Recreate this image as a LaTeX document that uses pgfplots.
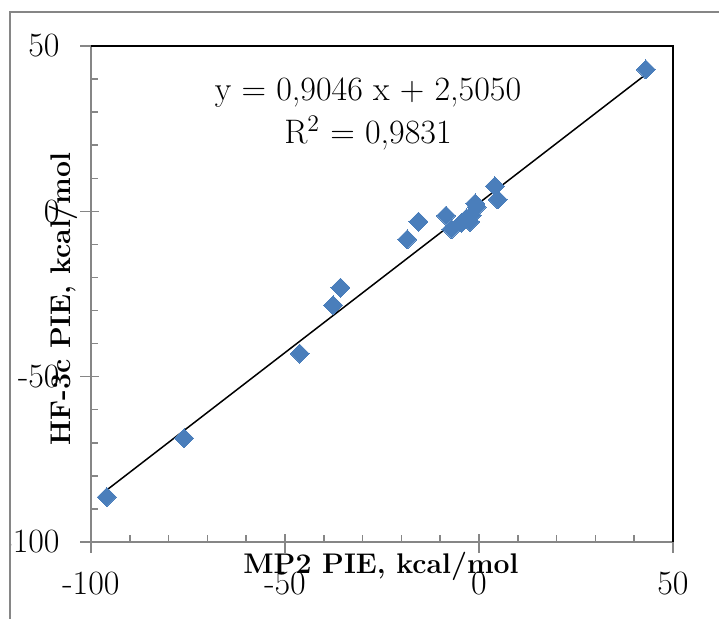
\documentclass[border=0pt]{standalone}
\usepackage{pgfplots}
\pgfplotsset{compat=1.18}
\definecolor{ptblue}{RGB}{74,126,187}
\definecolor{axgray}{RGB}{134,134,134}
\begin{document}
\begin{tikzpicture}
\path[use as bounding box] (-45.5pt,-38pt) rectangle (314pt,271pt);
\begin{scope}
\clip (-40.5pt,-38pt) rectangle (314pt,265pt);
\begin{axis}[
  at={(0,0)}, anchor=south west, scale only axis,
  width=291pt, height=248pt,
  xmin=-100, xmax=50, ymin=-100, ymax=50,
  axis lines*=left,
  axis line style={axgray, line width=0.75pt},
  xtick={-100,-50,0,50}, ytick={-100,-50,0,50},
  xticklabels={-100,-50,0,50}, yticklabels={-100,-50,0,50},
  minor tick num=4,
  tick align=inside, major tick length=4pt, minor tick length=3.5pt,
  tick style={axgray, line width=0.75pt},
  tick label style={font=\fontsize{17}{20}\selectfont, inner sep=0pt},
  xticklabel style={anchor=center, yshift=-21pt},
  yticklabel style={anchor=east, xshift=-15.5pt},
  xlabel={MP2 PIE, kcal/mol}, ylabel={HF-3c PIE, kcal/mol},
  label style={font=\bfseries\fontsize{14.2}{17}\selectfont},
  x label style={at={(axis description cs:0.4983,-0.0484)}, anchor=center},
  y label style={at={(axis description cs:-0.0481,0.49)}, anchor=center, rotate=0},
  clip=false,
]
\addplot[black, line width=0.75pt] coordinates {(-95.9,-84.25) (43.0,41.40)};
\addplot[only marks, mark=square*, mark size=3.36pt,
  mark options={rotate=45, fill=ptblue, draw=ptblue, line width=0pt}] coordinates {
(-95.9,-86.4) (-76.0,-68.6) (-46.2,-43.0) (-37.6,-28.4) (-35.7,-23.1)
(-18.5,-8.5) (-15.6,-3.1) (-8.5,-1.3) (-7.1,-5.4) (-4.5,-3.5)
(-3.2,-2.1) (-2.3,-3.2) (-1.9,-1.2) (-1.0,2.4) (-0.6,1.3)
(4.1,7.6) (4.8,3.6) (43.0,42.9)};
\draw[black, line width=0.75pt] (rel axis cs:0,1) -- (rel axis cs:1,1) -- (rel axis cs:1,0);
\draw[axgray, line width=0.75pt] (axis cs:-100,-100) -- ++(0pt,-5.5pt);
\draw[axgray, line width=0.75pt] (axis cs:-50,-100) -- ++(0pt,-5.5pt);
\draw[axgray, line width=0.75pt] (axis cs:0,-100) -- ++(0pt,-5.5pt);
\draw[axgray, line width=0.75pt] (axis cs:50,-100) -- ++(0pt,-5.5pt);
\draw[axgray, line width=0.75pt] (axis cs:-100,-100) -- ++(-5.5pt,0pt);
\draw[axgray, line width=0.75pt] (axis cs:-100,-50) -- ++(-5.5pt,0pt);
\draw[axgray, line width=0.75pt] (axis cs:-100,0) -- ++(-5.5pt,0pt);
\draw[axgray, line width=0.75pt] (axis cs:-100,50) -- ++(-5.5pt,0pt);
\node[font=\fontsize{17}{20}\selectfont] at (axis cs:-28.6,35.8) {y = 0,9046 x + 2,5050};
\node[font=\fontsize{17}{20}\selectfont] at (axis cs:-28.6,23.7) {R\textsuperscript{2} = 0,9831};
\end{axis}
\end{scope}
\draw[axgray, line width=0.75pt] (-40.5pt,-50pt) |- (330pt,265pt);
\end{tikzpicture}
\end{document}
